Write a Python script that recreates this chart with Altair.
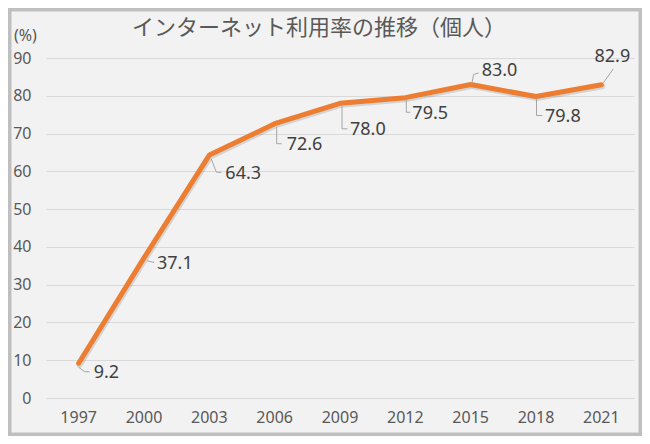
import altair as alt
import pandas as pd

# ---- data ----
years = ["1997", "2000", "2003", "2006", "2009", "2012", "2015", "2018", "2021"]
rates = [9.2, 37.1, 64.3, 72.6, 78.0, 79.5, 83.0, 79.8, 82.9]
y_ticks = [0, 10, 20, 30, 40, 50, 60, 70, 80, 90]
title_text = "インターネット利用率の推移（個人）"
unit_text = "(%)"

df = pd.DataFrame({"year": years, "rate": rates,
                   "label": [f"{v:.1f}" for v in rates]})

# ---- styling ----
ORANGE = "#ED7D31"
TEXT = "#595959"
GRID = "#D9D9D9"
LEADER = "#A6A6A6"
FONT = "Noto Sans"
JP_FONT = "Noto Sans CJK JP"

# manual data-label placement (offsets in px relative to the point)
label_style = {
    "1997": dict(dx=15, dy=10, align="left", leader=[(0, 4), (6, 8.5), (11, 8.5)]),
    "2000": dict(dx=13, dy=6, align="left", leader=[(3, 3), (10, 4.5)]),
    "2003": dict(dx=16, dy=19, align="left", leader=[(2, 4), (7, 17), (12, 17.5)]),
    "2006": dict(dx=12, dy=21.5, align="left", leader=[(2, 3), (2, 20), (7, 20)]),
    "2009": dict(dx=10, dy=27, align="left", leader=[(2, 2), (2, 25.5), (7.5, 25.5)]),
    "2012": dict(dx=7, dy=16.5, align="left", leader=[(1, 1), (1, 14.6), (5, 14.6)]),
    "2015": dict(dx=11, dy=-13, align="left", leader=[(1, 0), (3, -10), (8, -11.5)]),
    "2018": dict(dx=9, dy=20, align="left", leader=[(0.5, 2), (0.5, 19), (6.5, 19)]),
    "2021": dict(dx=11, dy=-28, align="center", leader=[(2, -2), (12, -16)]),
}

W, H = 588, 340
PAD = {"left": 38, "top": 50, "right": 8, "bottom": 38}

x_enc = alt.X("year:O", title=None,
              axis=alt.Axis(labelAngle=0, domain=False, ticks=False, grid=False,
                            labelFontSize=16, labelColor=TEXT, labelFont=FONT,
                            labelPadding=11))
y_enc = alt.Y("rate:Q", title=None,
              scale=alt.Scale(domain=[0, 90], nice=False, zero=True),
              axis=alt.Axis(values=y_ticks, domain=False, ticks=False, grid=True,
                            gridColor=GRID, gridWidth=1, labelFontSize=16,
                            labelColor=TEXT, labelFont=FONT, labelPadding=15))

base = alt.Chart(df).encode(x=x_enc, y=y_enc)

single = pd.DataFrame({"t": [0]})
layers = []

# frame around the chart
frame = alt.Chart(single).mark_rect(
    fill=None, stroke="#BFBFBF", strokeWidth=3.5
).encode(
    x=alt.value(-PAD["left"] + 1.75), x2=alt.value(W + PAD["right"] - 1.75),
    y=alt.value(-PAD["top"] + 1.75), y2=alt.value(H + PAD["bottom"] - 1.75),
)
layers.append(frame)

# title
title = alt.Chart(pd.DataFrame({"t": [title_text]})).mark_text(
    align="center", baseline="middle", fontSize=22, font=JP_FONT, color=TEXT
).encode(x=alt.value(273), y=alt.value(-30), text="t:N")
layers.append(title)

# unit label
unit = alt.Chart(pd.DataFrame({"t": [unit_text]})).mark_text(
    align="left", baseline="middle", fontSize=16, font=FONT, color=TEXT
).encode(x=alt.value(-32), y=alt.value(-22), text="t:N")
layers.append(unit)

# soft shadow + line
layers.append(base.mark_line(color="#000000", opacity=0.12, strokeWidth=6,
                             xOffset=1, yOffset=1.5, strokeCap="round",
                             strokeJoin="round"))
layers.append(base.mark_line(color=ORANGE, strokeWidth=5, strokeCap="round",
                             strokeJoin="round"))

# leader lines and labels
for yr, st in label_style.items():
    sub = base.transform_filter(alt.datum.year == yr)
    pts = st["leader"]
    for (ax, ay), (bx, by) in zip(pts[:-1], pts[1:]):
        layers.append(sub.mark_rule(color=LEADER, strokeWidth=1,
                                    xOffset=ax, yOffset=ay,
                                    x2Offset=bx, y2Offset=by)
                      .encode(x2="year:O", y2="rate:Q"))
    layers.append(sub.mark_text(align=st["align"], baseline="middle",
                                dx=st["dx"], dy=st["dy"], fontSize=18,
                                font=FONT, color="#404040")
                  .encode(text="label:N"))

chart = alt.layer(*layers).properties(
    width=W, height=H,
    autosize=alt.AutoSizeParams(type="none"),
    padding=PAD,
    background="#F2F2F2",
).configure_view(stroke=None)

chart.save("out.html", embed_options={"renderer": "svg", "actions": False})
